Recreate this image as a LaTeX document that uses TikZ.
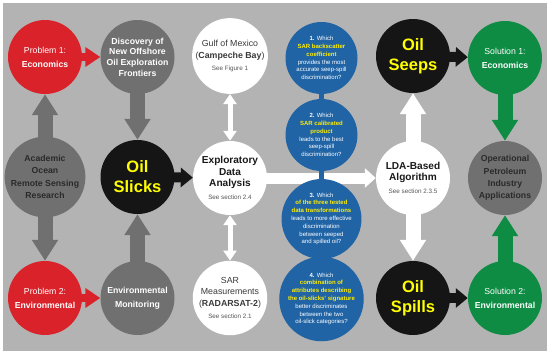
\documentclass[tikz,border=0pt]{standalone}
\usepackage{fontspec}
\setmainfont{Liberation Sans}
\usetikzlibrary{arrows.meta}
\pgfdeclarelayer{bgzero}
\pgfdeclarelayer{background}
\pgfsetlayers{bgzero,background,main}
\definecolor{bggray}{HTML}{B3B3B3}
\definecolor{cgray}{HTML}{707070}
\definecolor{cred}{HTML}{D9222A}
\definecolor{cgreen}{HTML}{0E8C44}
\definecolor{cblue}{HTML}{2064A6}
\definecolor{cblack}{HTML}{151515}
\definecolor{ylw}{HTML}{FFFF00}
\definecolor{bylw}{HTML}{FFEE00}
\definecolor{dtext}{HTML}{2A2A2A}
\definecolor{mtext}{HTML}{3A3A3A}
\definecolor{stext}{HTML}{555555}
\newcommand\fsz[2]{\fontsize{#1}{#2}\selectfont}
\begin{document}
\begin{tikzpicture}[x=1pt,y=-1pt,
  circ/.style={circle, minimum size=74pt, inner sep=0pt, align=center},
  redcirc/.style={circ, fill=cred, text=white, font=\fsz{8.7}{11}},
  greencirc/.style={circ, fill=cgreen, text=white, font=\fsz{8.7}{11}},
  graycirc/.style={circ, fill=cgray, text=white, font=\fsz{8.7}{10.7}\bfseries},
  darkcirc/.style={circ, fill=cgray, text=dtext, font=\fsz{8.7}{12.3}\bfseries},
  blackcirc/.style={circ, fill=cblack, text=ylw, font=\fsz{16.5}{20}\bfseries},
  whitecirc/.style={circ, fill=white, text=mtext, font=\fsz{8.8}{11.5}},
  boldwhite/.style={circ, fill=white, text=black!90, font=\fsz{10.1}{11.7}\bfseries},
  bluecirc/.style={circ, minimum size=72pt, fill=cblue, text=white, font=\fsz{6}{7.8}},
  hl/.style={},
  grayarr/.style={line width=15pt, draw=cgray, -{Triangle[width=25pt,length=21pt]}},
  greenarr/.style={line width=15pt, draw=cgreen, -{Triangle[width=25pt,length=21pt]}},
  whitevarr/.style={line width=15pt, draw=white, -{Triangle[width=25pt,length=21pt]}},
  redarr/.style={line width=8pt, draw=cred, -{Triangle[width=19pt,length=15pt]}},
  blackarr/.style={line width=10pt, draw=cblack, -{Triangle[width=19pt,length=12pt]}},
  whiteharr/.style={line width=11pt, draw=white, -{Triangle[width=19pt,length=11pt]}},
  dblarr/.style={line width=5pt, draw=white, {Triangle[width=13pt,length=10pt]}-{Triangle[width=13pt,length=10pt]}},
  blueline/.style={line width=4.5pt, draw=cblue}
]
\useasboundingbox (0,0) rectangle (550,356);
\begin{pgfonlayer}{bgzero}
\fill[white] (0,0) rectangle (550,356);
\fill[bggray] (3,3) rectangle (547,351);
\end{pgfonlayer}

% top row
\node[redcirc] (prob1) at (45,57) {Problem 1:\\[3pt]\textbf{Economics}};
\node[graycirc] (disc) at (137.5,57) {Discovery of\\New Offshore\\Oil Exploration\\Frontiers};
\node[whitecirc] (gulf) at (230,56) {Gulf of Mexico\\(\textbf{Campeche Bay})\\[1pt]{\fsz{6.3}{7}\color{stext}See Figure 1}};
\node[bluecirc] (q1) at (321.5,58) {\textbf{1.} Which\\\textcolor{bylw}{\textbf{SAR backscatter}}\\\textcolor{bylw}{\textbf{coefficient}}\\provides the most\\accurate seep-spill\\discrimination?};
\node[blackcirc] (seeps) at (413,56) {Oil\\Seeps};
\node[greencirc] (sol1) at (505,58) {Solution 1:\\[3pt]\textbf{Economics}};

% middle row
\node[darkcirc] (acad) at (45,177) {Academic\\Ocean\\Remote Sensing\\Research};
\node[blackcirc] (slicks) at (137.5,177) {Oil\\Slicks};
\node[boldwhite] (eda) at (230,178) {Exploratory\\Data\\Analysis\\[1.3pt]{\fsz{6.3}{7}\mdseries\color{stext}See section 2.4}};
\node[bluecirc] (q2) at (321.5,135) {\textbf{2.} Which\\\textcolor{bylw}{\textbf{SAR calibrated}}\\\textcolor{bylw}{\textbf{product}}\\leads to the best\\seep-spill\\discrimination?};
\node[bluecirc] (q3) at (321.5,219) {\textbf{3.} Which\\\textcolor{bylw}{\textbf{of the three tested}}\\\textcolor{bylw}{\textbf{data transformations}}\\leads to more effective\\discrimination\\between seeped\\and spilled oil?};
\node[boldwhite] (lda) at (413,178) {LDA-Based\\Algorithm\\[1.3pt]{\fsz{6.3}{7}\mdseries\color{stext}See section 2.3.5}};
\node[darkcirc] (oper) at (505,178) {Operational\\Petroleum\\Industry\\Applications};

% bottom row
\node[redcirc] (prob2) at (45,298) {Problem 2:\\[3pt]\textbf{Environmental}};
\node[graycirc] (envm) at (137.5,298) {Environmental\\[3pt]Monitoring};
\node[whitecirc] (sar) at (230,298) {SAR\\Measurements\\(\textbf{RADARSAT-2})\\[1pt]{\fsz{6.3}{7}\color{stext}See section 2.1}};
\node[bluecirc] (q4) at (321.5,299) {\textbf{4.} Which\\\textcolor{bylw}{\textbf{combination of}}\\\textcolor{bylw}{\textbf{attributes describing}}\\\textcolor{bylw}{\textbf{the oil-slicks' signature}}\\better discriminates\\between the two\\oil-slick categories?};
\node[blackcirc] (spills) at (413,298) {Oil\\Spills};
\node[greencirc] (sol2) at (505,298) {Solution 2:\\[3pt]\textbf{Environmental}};

\begin{pgfonlayer}{background}
\draw[grayarr] (acad.center) -- (prob1);
\draw[grayarr] (acad.center) -- (prob2);
\draw[grayarr] (disc.center) -- (slicks);
\draw[grayarr] (envm.center) -- (slicks);
\draw[redarr] (prob1.center) -- (disc);
\draw[redarr] (prob2.center) -- (envm);
\draw[blackarr] (slicks.center) -- (eda);
\draw[blackarr] (seeps.center) -- (sol1);
\draw[blackarr] (spills.center) -- (sol2);
\draw[dblarr] (gulf) -- (eda);
\draw[dblarr] (sar) -- (eda);
\draw[whiteharr] (eda.center) -- (lda);
\draw[whitevarr] (lda.center) -- (seeps);
\draw[whitevarr] (lda.center) -- (spills);
\draw[greenarr] (sol1.center) -- (oper);
\draw[greenarr] (sol2.center) -- (oper);
\draw[blueline] (q1.center) -- (q2.center) -- (q3.center) -- (q4.center);
\end{pgfonlayer}
\end{tikzpicture}
\end{document}
